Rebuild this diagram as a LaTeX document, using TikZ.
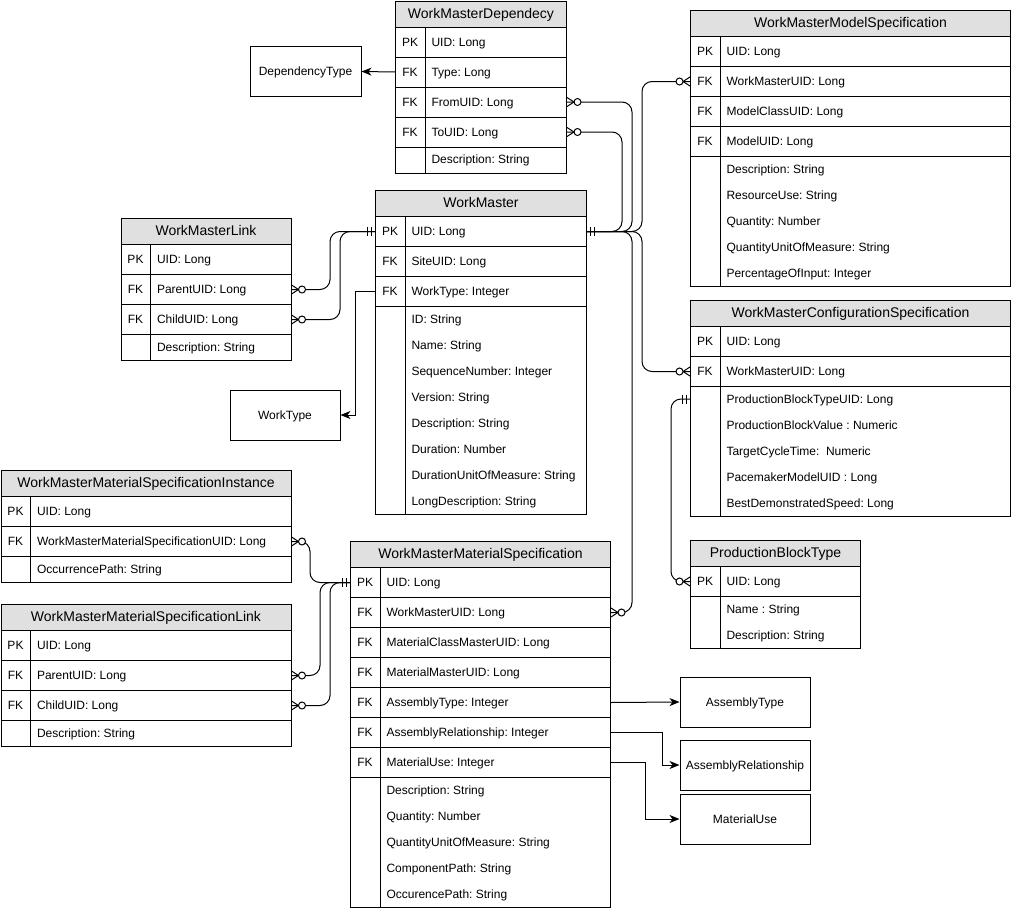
\documentclass[tikz,border=0pt]{standalone}
\usepackage{fontspec}
\setmainfont{Liberation Sans}
\frenchspacing
\usetikzlibrary{positioning, calc, arrows.meta}

\definecolor{headgray}{HTML}{E0E0E0}

\tikzset{
  every node/.style={font=\fontsize{12}{14}\selectfont},
  head/.style={draw, fill=headgray, anchor=north west, minimum height=26, inner sep=0,
    text height=11, text depth=2.5, font=\fontsize{14}{16}\selectfont},
  keyrow/.style={draw, anchor=north west, minimum height=30, inner sep=0},
  body/.style={draw, anchor=north west, inner sep=0},
  keytxt/.style={inner sep=0, text height=10, text depth=2},
  attr/.style={anchor=west, inner sep=0, text height=10, text depth=2},
  refbox/.style={draw, minimum height=50, inner sep=0, text height=10, text depth=2},
  relline/.style={rounded corners=10pt},
  toref/.style={-{Stealth[length=10pt,width=8pt,inset=3pt]}},
  zmany/.pic={\draw (0,-4.5) -- (7,0) -- (0,4.5);
    \draw[fill=white] (10.5,0) circle (3.5);},
  mone/.pic={\draw (3.5,-4.5) -- (3.5,4.5) (7.5,-4.5) -- (7.5,4.5);},
}

\begin{document}
\begin{tikzpicture}[x=1pt, y=-1pt, line width=1pt]
\useasboundingbox (0,0) rectangle (1012,910);

% WorkMasterDependecy
\node[head, minimum width=171] (wmdep) at (395,0.5) {WorkMasterDependecy};
\foreach \kk/\fld [count=\i] in {PK/UID: Long, FK/Type: Long, FK/FromUID: Long, FK/ToUID: Long} {
  \node[keyrow, minimum width=171] (wmdep-\i) at (395,{26.5+30*(\i-1)}) {};
  \node[keytxt] at ($(wmdep-\i.west)+(15,0)$) {\kk};
  \node[attr] at ($(wmdep-\i.west)+(36,0)$) {\fld};
}
\node[body, minimum width=171, minimum height=26] (wmdep-b) at (395,146.5) {};
\foreach \fld [count=\i] in {Description: String}
  \node[attr] (wmdep-p\i) at (431,{159.5+26*(\i-1)}) {\fld};
\draw ($(wmdep.south west)+(30,0)$) -- ($(wmdep-b.south west)+(30,0)$);

% WorkMaster
\node[head, minimum width=211] (wm) at (375,190) {WorkMaster};
\foreach \kk/\fld [count=\i] in {PK/UID: Long, FK/SiteUID: Long, FK/WorkType: Integer} {
  \node[keyrow, minimum width=211] (wm-\i) at (375,{216+30*(\i-1)}) {};
  \node[keytxt] at ($(wm-\i.west)+(15,0)$) {\kk};
  \node[attr] at ($(wm-\i.west)+(36,0)$) {\fld};
}
\node[body, minimum width=211, minimum height=208] (wm-b) at (375,306) {};
\foreach \fld [count=\i] in {ID: String, Name: String, SequenceNumber: Integer, Version: String,
    Description: String, Duration: Number, DurationUnitOfMeasure: String, LongDescription: String}
  \node[attr] (wm-p\i) at (411,{319+26*(\i-1)}) {\fld};
\draw ($(wm.south west)+(30,0)$) -- ($(wm-b.south west)+(30,0)$);

% WorkMasterLink
\node[head, minimum width=170] (wmlink) at (120.5,218) {WorkMasterLink};
\foreach \kk/\fld [count=\i] in {PK/UID: Long, FK/ParentUID: Long, FK/ChildUID: Long} {
  \node[keyrow, minimum width=170] (wmlink-\i) at (120.5,{244+30*(\i-1)}) {};
  \node[keytxt] at ($(wmlink-\i.west)+(15,0)$) {\kk};
  \node[attr] at ($(wmlink-\i.west)+(36,0)$) {\fld};
}
\node[body, minimum width=170, minimum height=26] (wmlink-b) at (120.5,334) {};
\foreach \fld [count=\i] in {Description: String}
  \node[attr] (wmlink-p\i) at (156.5,{347+26*(\i-1)}) {\fld};
\draw ($(wmlink.south west)+(30,0)$) -- ($(wmlink-b.south west)+(30,0)$);

% WorkMasterModelSpecification
\node[head, minimum width=320] (wmmodel) at (690,10) {WorkMasterModelSpecification};
\foreach \kk/\fld [count=\i] in {PK/UID: Long, FK/WorkMasterUID: Long, FK/ModelClassUID: Long, FK/ModelUID: Long} {
  \node[keyrow, minimum width=320] (wmmodel-\i) at (690,{36+30*(\i-1)}) {};
  \node[keytxt] at ($(wmmodel-\i.west)+(15,0)$) {\kk};
  \node[attr] at ($(wmmodel-\i.west)+(36,0)$) {\fld};
}
\node[body, minimum width=320, minimum height=130] (wmmodel-b) at (690,156) {};
\foreach \fld [count=\i] in {Description: String, ResourceUse: String, Quantity: Number,
    QuantityUnitOfMeasure: String, PercentageOfInput: Integer}
  \node[attr] (wmmodel-p\i) at (726,{169+26*(\i-1)}) {\fld};
\draw ($(wmmodel.south west)+(30,0)$) -- ($(wmmodel-b.south west)+(30,0)$);

% WorkMasterConfigurationSpecification
\node[head, minimum width=320] (wmconf) at (690,300) {WorkMasterConfigurationSpecification};
\foreach \kk/\fld [count=\i] in {PK/UID: Long, FK/WorkMasterUID: Long} {
  \node[keyrow, minimum width=320] (wmconf-\i) at (690,{326+30*(\i-1)}) {};
  \node[keytxt] at ($(wmconf-\i.west)+(15,0)$) {\kk};
  \node[attr] at ($(wmconf-\i.west)+(36,0)$) {\fld};
}
\node[body, minimum width=320, minimum height=130] (wmconf-b) at (690,386) {};
\foreach \fld [count=\i] in {ProductionBlockTypeUID: Long, ProductionBlockValue : Numeric,
    TargetCycleTime: \ Numeric, PacemakerModelUID : Long, BestDemonstratedSpeed: Long}
  \node[attr] (wmconf-p\i) at (726,{399+26*(\i-1)}) {\fld};
\draw ($(wmconf.south west)+(30,0)$) -- ($(wmconf-b.south west)+(30,0)$);

% ProductionBlockType
\node[head, minimum width=170] (pbt) at (690,540) {ProductionBlockType};
\foreach \kk/\fld [count=\i] in {PK/UID: Long} {
  \node[keyrow, minimum width=170] (pbt-\i) at (690,{566+30*(\i-1)}) {};
  \node[keytxt] at ($(pbt-\i.west)+(15,0)$) {\kk};
  \node[attr] at ($(pbt-\i.west)+(36,0)$) {\fld};
}
\node[body, minimum width=170, minimum height=52] (pbt-b) at (690,596) {};
\foreach \fld [count=\i] in {Name : String, Description: String}
  \node[attr] (pbt-p\i) at (726,{609+26*(\i-1)}) {\fld};
\draw ($(pbt.south west)+(30,0)$) -- ($(pbt-b.south west)+(30,0)$);

% WorkMasterMaterialSpecificationInstance
\node[head, minimum width=290] (msinst) at (0.5,470) {WorkMasterMaterialSpecificationInstance};
\foreach \kk/\fld [count=\i] in {PK/UID: Long, FK/WorkMasterMaterialSpecificationUID: Long} {
  \node[keyrow, minimum width=290] (msinst-\i) at (0.5,{496+30*(\i-1)}) {};
  \node[keytxt] at ($(msinst-\i.west)+(15,0)$) {\kk};
  \node[attr] at ($(msinst-\i.west)+(36,0)$) {\fld};
}
\node[body, minimum width=290, minimum height=26] (msinst-b) at (0.5,556) {};
\foreach \fld [count=\i] in {OccurrencePath: String}
  \node[attr] (msinst-p\i) at (36.5,{569+26*(\i-1)}) {\fld};
\draw ($(msinst.south west)+(30,0)$) -- ($(msinst-b.south west)+(30,0)$);

% WorkMasterMaterialSpecificationLink
\node[head, minimum width=290] (mslink) at (0.5,604) {WorkMasterMaterialSpecificationLink};
\foreach \kk/\fld [count=\i] in {PK/UID: Long, FK/ParentUID: Long, FK/ChildUID: Long} {
  \node[keyrow, minimum width=290] (mslink-\i) at (0.5,{630+30*(\i-1)}) {};
  \node[keytxt] at ($(mslink-\i.west)+(15,0)$) {\kk};
  \node[attr] at ($(mslink-\i.west)+(36,0)$) {\fld};
}
\node[body, minimum width=290, minimum height=26] (mslink-b) at (0.5,720) {};
\foreach \fld [count=\i] in {Description: String}
  \node[attr] (mslink-p\i) at (36.5,{733+26*(\i-1)}) {\fld};
\draw ($(mslink.south west)+(30,0)$) -- ($(mslink-b.south west)+(30,0)$);

% WorkMasterMaterialSpecification
\node[head, minimum width=260] (wmmat) at (350,541) {WorkMasterMaterialSpecification};
\foreach \kk/\fld [count=\i] in {PK/UID: Long, FK/WorkMasterUID: Long, FK/MaterialClassMasterUID: Long,
    FK/MaterialMasterUID: Long, FK/AssemblyType: Integer, FK/AssemblyRelationship: Integer, FK/MaterialUse: Integer} {
  \node[keyrow, minimum width=260] (wmmat-\i) at (350,{567+30*(\i-1)}) {};
  \node[keytxt] at ($(wmmat-\i.west)+(15,0)$) {\kk};
  \node[attr] at ($(wmmat-\i.west)+(36,0)$) {\fld};
}
\node[body, minimum width=260, minimum height=130] (wmmat-b) at (350,777) {};
\foreach \fld [count=\i] in {Description: String, Quantity: Number, QuantityUnitOfMeasure: String,
    ComponentPath: String, OccurencePath: String}
  \node[attr] (wmmat-p\i) at (386,{790+26*(\i-1)}) {\fld};
\draw ($(wmmat.south west)+(30,0)$) -- ($(wmmat-b.south west)+(30,0)$);

% lookup boxes
\node[refbox, minimum width=111] (deptype) at (305.5,71.5) {DependencyType};
\node[refbox, minimum width=110] (worktype) at (285,415) {WorkType};
\node[refbox, minimum width=130] (asmtype) at (745,702) {AssemblyType};
\node[refbox, minimum width=130] (asmrel) at (745,765) {AssemblyRelationship};
\node[refbox, minimum width=130] (matuse) at (745,819) {MaterialUse};

% plain references
\draw[toref] (wmdep-2.west) -- (deptype.east);
\draw[toref] (wm-3.west) -- ++(-20,0) |- (worktype.east);
\draw[toref] (wmmat-5.east) -- (asmtype.west);
\draw[toref] (wmmat-6.east) -- ++(51,0) |- (asmrel.west);
\draw[toref] (wmmat-7.east) -- ++(34,0) |- (matuse.west);

% relations from WorkMaster
\draw[relline] (wm-1.west) -- ++(-45,0) |- (wmlink-2.east);
\draw[relline] (wm-1.west) -- ++(-35,0) |- (wmlink-3.east);
\draw[relline] (wm-1.east) -- ++(35,0) |- (wmdep-4.east);
\draw[relline] (wm-1.east) -- ++(45,0) |- (wmdep-3.east);
\draw[relline] (wm-1.east) -- ++(55,0) |- (wmmodel-2.west);
\draw[relline] (wm-1.east) -- ++(55,0) |- (wmconf-2.west);
\draw[relline] (wm-1.east) -- ++(45,0) |- (wmmat-2.east);
% relations from WorkMasterMaterialSpecification
\draw[relline] (wmmat-1.west) -- ++(-40,0) |- (msinst-2.east);
\draw[relline] (wmmat-1.west) -- ++(-30,0) |- (mslink-2.east);
\draw[relline] (wmmat-1.west) -- ++(-20,0) |- (mslink-3.east);
% ProductionBlockType
\draw[relline] (wmconf-b.west |- wmconf-p1) -- ++(-19,0) |- (pbt-1.west);

% cardinality marks
\pic at (wm-1.east) {mone};
\pic[xscale=-1] at (wm-1.west) {mone};
\pic[xscale=-1] at (wmmat-1.west) {mone};
\pic[xscale=-1] at (wmconf-b.west |- wmconf-p1) {mone};
\pic at (wmlink-2.east) {zmany};
\pic at (wmlink-3.east) {zmany};
\pic at (wmdep-3.east) {zmany};
\pic at (wmdep-4.east) {zmany};
\pic[xscale=-1] at (wmmodel-2.west) {zmany};
\pic[xscale=-1] at (wmconf-2.west) {zmany};
\pic at (wmmat-2.east) {zmany};
\pic at (msinst-2.east) {zmany};
\pic at (mslink-2.east) {zmany};
\pic at (mslink-3.east) {zmany};
\pic[xscale=-1] at (pbt-1.west) {zmany};
\end{tikzpicture}
\end{document}
